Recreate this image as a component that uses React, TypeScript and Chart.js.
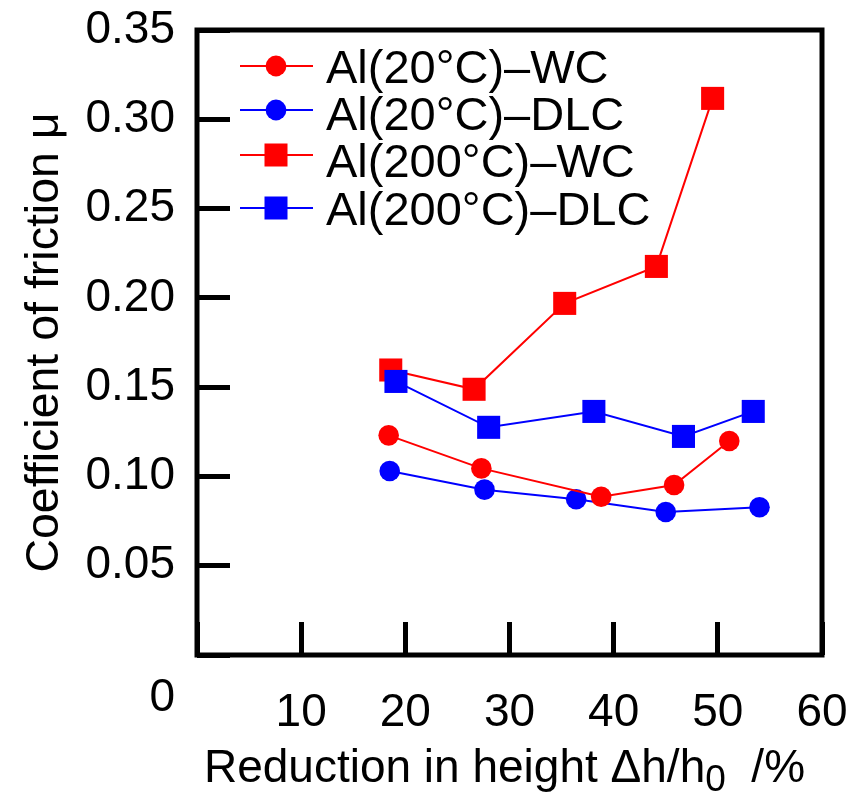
import React, { useEffect, useRef } from 'react';
import { Chart, registerables } from 'chart.js';

Chart.register(...registerables);

const FONT = '"Liberation Sans", Arial, Helvetica, sans-serif';

const seriesLabels = ['Al(20°C)–WC', 'Al(20°C)–DLC', 'Al(200°C)–WC', 'Al(200°C)–DLC'];
const seriesColors = ['#ff0000', '#0000ff', '#ff0000', '#0000ff'];
const seriesShapes = ['circle', 'circle', 'rect', 'rect'];

const wc20X = [18.4, 27.3, 38.8, 45.8, 51.1];
const wc20Y = [0.123, 0.1045, 0.0886, 0.0952, 0.1198];
const dlc20X = [18.5, 27.6, 36.4, 45.0, 54.0];
const dlc20Y = [0.103, 0.0926, 0.0872, 0.0801, 0.0827];
const wc200X = [18.6, 26.6, 35.3, 44.1, 49.5];
const wc200Y = [0.1596, 0.1488, 0.1969, 0.2176, 0.3117];
const dlc200X = [19.1, 28.0, 38.1, 46.7, 53.4];
const dlc200Y = [0.1532, 0.1275, 0.1364, 0.1224, 0.1364];

const xTickValues = [0, 10, 20, 30, 40, 50, 60];
const yTickValues = [0, 0.05, 0.1, 0.15, 0.2, 0.25, 0.3, 0.35];

const xTitleMain = 'Reduction in height Δh/h';
const xTitleSub = '0';
const xTitleTail = '  /%';
const yTitle = 'Coefficient of friction μ';
const cornerLabel = '0';

const seriesX = [wc20X, dlc20X, wc200X, dlc200X];
const seriesY = [wc20Y, dlc20Y, wc200Y, dlc200Y];
const drawOrder = [0, 1, 3, 2];

const decorPlugin = {
  id: 'decor',
  afterDraw(chart: any) {
    const { ctx, chartArea: a } = chart;
    ctx.save();
    // frame
    ctx.lineWidth = 5;
    ctx.strokeStyle = '#000';
    ctx.lineJoin = 'miter';
    ctx.strokeRect(a.left, a.top, a.right - a.left, a.bottom - a.top);

    ctx.fillStyle = '#000';
    // corner zero
    ctx.font = `46px ${FONT}`;
    ctx.textAlign = 'right';
    ctx.textBaseline = 'middle';
    ctx.fillText(cornerLabel, a.left - 22, a.bottom + 43);

    // x title with subscript
    ctx.textBaseline = 'alphabetic';
    ctx.textAlign = 'left';
    ctx.font = `46px ${FONT}`;
    const w1 = ctx.measureText(xTitleMain).width;
    const w3 = ctx.measureText(xTitleTail).width;
    ctx.font = `37px ${FONT}`;
    const w2 = ctx.measureText(xTitleSub).width;
    const total = w1 + w2 + w3;
    const cx = (a.left + a.right) / 2 - 5;
    let x = cx - total / 2;
    const by = 782;
    ctx.font = `46px ${FONT}`;
    ctx.fillText(xTitleMain, x, by);
    x += w1;
    ctx.font = `37px ${FONT}`;
    ctx.fillText(xTitleSub, x, by + 9);
    x += w2;
    ctx.font = `46px ${FONT}`;
    ctx.fillText(xTitleTail, x, by);

    // y title
    ctx.save();
    ctx.translate(58, (a.top + a.bottom) / 2);
    ctx.rotate(-Math.PI / 2);
    ctx.textAlign = 'center';
    ctx.font = `46.5px ${FONT}`;
    ctx.fillText(yTitle, 0, 0);
    ctx.restore();

    // legend
    const lx0 = 240;
    const lx1 = 313;
    const mx = 276;
    const rowY = [66, 110, 155, 208];
    const textBase = [83, 130, 177, 225];
    for (let i = 0; i < seriesLabels.length; i++) {
      const y = rowY[i];
      ctx.strokeStyle = seriesColors[i];
      ctx.lineWidth = 2;
      ctx.beginPath();
      ctx.moveTo(lx0, y);
      ctx.lineTo(lx1, y);
      ctx.stroke();
      ctx.fillStyle = seriesColors[i];
      if (seriesShapes[i] === 'circle') {
        ctx.beginPath();
        ctx.arc(mx, y, 10.4, 0, Math.PI * 2);
        ctx.fill();
      } else {
        ctx.fillRect(mx - 11.5, y - 11.5, 23, 23);
      }
      ctx.fillStyle = '#000';
      ctx.font = `47px ${FONT}`;
      ctx.textAlign = 'left';
      ctx.textBaseline = 'alphabetic';
      ctx.fillText(seriesLabels[i], 326, textBase[i]);
    }
    ctx.restore();
  },
};

export default function App() {
  const ref = useRef<HTMLCanvasElement | null>(null);

  useEffect(() => {
    if (!ref.current) return;
    const datasets = seriesLabels.map((label, i) => ({
      label,
      data: seriesX[i].map((x, j) => ({ x, y: seriesY[i][j] })),
      borderColor: seriesColors[i],
      backgroundColor: seriesColors[i],
      borderWidth: 2,
      pointStyle: seriesShapes[i],
      pointRadius: seriesShapes[i] === 'circle' ? 10.3 : 16.3,
      pointBorderWidth: 0,
      pointBackgroundColor: seriesColors[i],
      showLine: true,
      tension: 0,
      order: drawOrder[i],
      clip: false as any,
    }));

    const chart = new Chart(ref.current, {
      type: 'scatter',
      data: { datasets },
      options: {
        animation: false,
        responsive: false,
        devicePixelRatio: 1,
        layout: { padding: { top: 30, right: 31, left: 0, bottom: 0 } },
        plugins: {
          legend: { display: false },
          tooltip: { enabled: false },
          title: { display: false },
        },
        events: [],
        scales: {
          x: {
            type: 'linear',
            min: 0,
            max: 60,
            afterBuildTicks: (s: any) => {
              s.ticks = xTickValues.map((v) => ({ value: v }));
            },
            afterFit: (s: any) => {
              s.height = 137;
              s.paddingLeft = 0;
              s.paddingRight = 0;
            },
            ticks: {
              autoSkip: false,
              maxRotation: 0,
              padding: 64,
              color: '#000',
              font: { family: FONT, size: 46 },
              callback: (v: any) => (v === 0 ? '' : String(v)),
            },
            grid: {
              display: true,
              drawOnChartArea: false,
              drawTicks: true,
              tickLength: -33,
              lineWidth: 5,
              color: '#000',
            },
            border: { display: false },
          },
          y: {
            type: 'linear',
            min: 0,
            max: 0.35,
            afterBuildTicks: (s: any) => {
              s.ticks = yTickValues.map((v) => ({ value: v }));
            },
            afterFit: (s: any) => {
              s.width = 197;
              s.paddingTop = 0;
              s.paddingBottom = 0;
            },
            ticks: {
              autoSkip: false,
              padding: 55,
              color: '#000',
              font: { family: FONT, size: 46 },
              callback: (v: any) => (Math.abs(v) < 1e-9 ? '' : Number(v).toFixed(2)),
            },
            grid: {
              display: true,
              drawOnChartArea: false,
              drawTicks: true,
              tickLength: -33,
              lineWidth: 5,
              color: '#000',
            },
            border: { display: false },
          },
        },
      },
      plugins: [decorPlugin],
    });
    return () => chart.destroy();
  }, []);

  return (
    <div style={{ position: 'fixed', left: 0, top: 0, width: 853, height: 792, background: '#fff' }}>
      <canvas ref={ref} width={853} height={792} style={{ width: 853, height: 792, display: 'block' }} />
    </div>
  );
}
